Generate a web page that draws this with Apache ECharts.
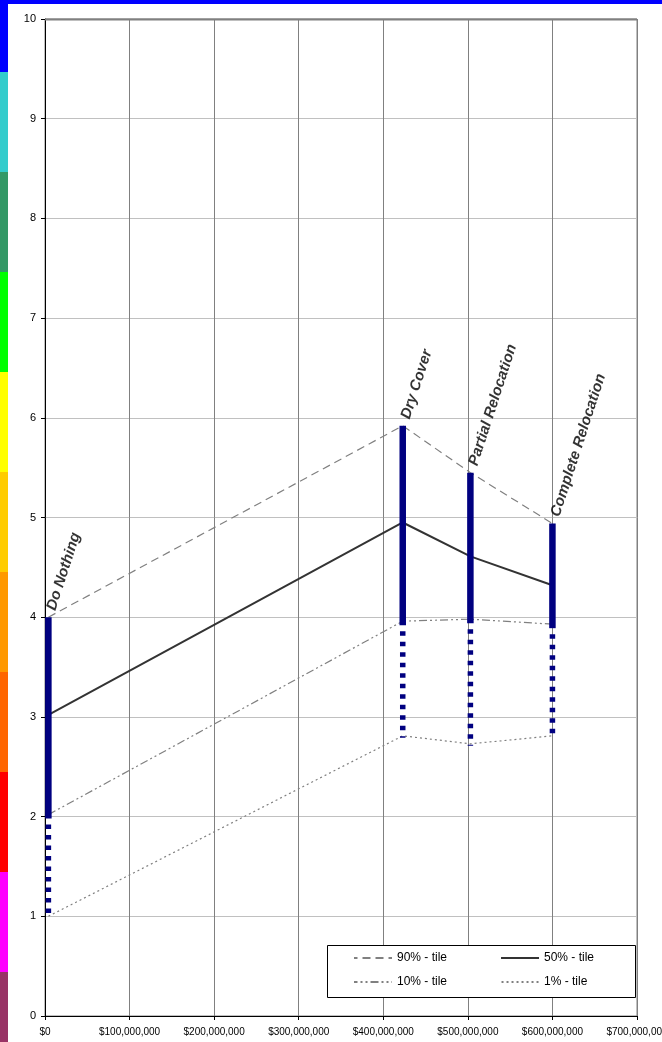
<!DOCTYPE html>
<html><head><meta charset="utf-8">
<script src="https://cdn.jsdelivr.net/npm/echarts@6/dist/echarts.min.js"></script>
<style>html,body{margin:0;padding:0;background:#fff;overflow:hidden}#c{width:662px;height:1042px}</style>
</head><body><div id="c"></div>
<script>
// ---- data ----
const alternatives = ['Do Nothing', 'Dry Cover', 'Partial Relocation', 'Complete Relocation'];
const costs = [4000000, 423000000, 503000000, 600000000];
const p90 = [4.00, 5.92, 5.45, 4.94];
const p50 = [3.02, 4.95, 4.61, 4.32];
const p10 = [2.02, 3.96, 3.98, 3.93];
const p1  = [1.00, 2.81, 2.73, 2.81];
const seriesNames = ['90% - tile', '50% - tile', '10% - tile', '1% - tile'];
const xTicks = { min: 0, max: 700000000, interval: 100000000 };
const yTicks = { min: 0, max: 10, interval: 1 };
const stripColors = ['#0000FF','#33CCCC','#339966','#00FF00','#FFFF00','#FFCC00','#FF9900','#FF6600','#FF0000','#FF00FF','#993366'];

// ---- chart ----
const FONT = '"Liberation Sans", Arial, sans-serif';
const chart = echarts.init(document.getElementById('c'), null, { renderer: 'canvas' });

const pts = arr => costs.map((c, i) => [c, arr[i]]);

const stripRects = stripColors.map((col, i) => {
  const y0 = i === 0 ? 0 : 72 + (i - 1) * 100;
  const y1 = i === 0 ? 72 : 72 + i * 100;
  return { type: 'rect', shape: { x: 0, y: y0, width: 8, height: y1 - y0 }, style: { fill: col }, z: 1 };
});

const lineStyles = [
  { color: '#808080', width: 1.2, type: [8, 5] },
  { color: '#333333', width: 2, type: 'solid' },
  { color: '#808080', width: 1.2, type: [8, 3, 2, 3, 2, 3] },
  { color: '#808080', width: 1.2, type: [2, 3] }
];
const lineData = [p90, p50, p10, p1];

const legendBase = {
  padding: 0, itemWidth: 38, itemHeight: 14, itemGap: 53, left: 353,
  itemStyle: { opacity: 0 },
  textStyle: { fontSize: 12, color: '#000', fontFamily: FONT }, z: 20, selectedMode: false
};

const option = {
  animation: false,
  backgroundColor: '#ffffff',
  textStyle: { fontFamily: FONT },
  grid: { left: 45, right: 25, top: 19, bottom: 26, containLabel: false, outerBoundsMode: 'none',
          show: true, borderColor: '#808080', borderWidth: 1, backgroundColor: 'transparent' },
  xAxis: {
    type: 'value', min: xTicks.min, max: xTicks.max, interval: xTicks.interval,
    axisLine: { show: true, onZero: false, lineStyle: { color: '#000', width: 1 } },
    axisTick: { show: true, length: 4, lineStyle: { color: '#000' } },
    axisLabel: { fontSize: 10, color: '#000', margin: 11, fontFamily: FONT,
      formatter: v => '$' + Number(v).toLocaleString('en-US') },
    splitLine: { show: true, lineStyle: { color: '#808080', width: 1 } }
  },
  yAxis: {
    type: 'value', min: yTicks.min, max: yTicks.max, interval: yTicks.interval,
    axisLine: { show: true, onZero: false, lineStyle: { color: '#000', width: 1 } },
    axisTick: { show: true, length: 4, lineStyle: { color: '#000' } },
    axisLabel: { fontSize: 11, color: '#000', margin: 9, fontFamily: FONT },
    splitLine: { show: true, lineStyle: { color: '#c0c0c0', width: 1 } }
  },
  legend: [
    Object.assign({}, legendBase, { data: [seriesNames[0], seriesNames[1]], top: 952 }),
    Object.assign({}, legendBase, { data: [seriesNames[2], seriesNames[3]], top: 976 })
  ],
  graphic: [
    { type: 'rect', shape: { x: 0, y: 0, width: 662, height: 4 }, style: { fill: '#0000FF' }, z: 1 },
    ...stripRects,
    { type: 'line', shape: { x1: 45, y1: 19.5, x2: 637, y2: 19.5 }, style: { stroke: '#808080', lineWidth: 2 }, z: 1 },
    { type: 'rect', shape: { x: 327.5, y: 945.5, width: 308, height: 52 }, style: { fill: '#fff', stroke: '#000', lineWidth: 1 }, z: 10 }
  ],
  series: [
    ...seriesNames.map((n, k) => ({
      name: n, type: 'line', data: pts(lineData[k]), symbol: 'none', showSymbol: false,
      lineStyle: lineStyles[k], itemStyle: { color: lineStyles[k].color }, z: 3
    })),
    {
      type: 'custom', z: 5,
      data: costs.map((c, i) => [c, p90[i], p10[i], p1[i]]),
      encode: { x: 0, y: [1, 2, 3] },
      renderItem: (params, api) => {
        const top = api.coord([api.value(0), api.value(1)]);
        const mid = api.coord([api.value(0), api.value(2)]);
        const bot = api.coord([api.value(0), api.value(3)]);
        const x = top[0];
        return { type: 'group', children: [
          { type: 'line', shape: { x1: x, y1: top[1], x2: x, y2: mid[1] + 4 }, style: { stroke: '#000080', lineWidth: 6.5 } },
          { type: 'line', shape: { x1: x, y1: mid[1] + 4, x2: x, y2: bot[1] + 2 }, style: { stroke: '#000080', lineWidth: 5.5, lineDash: [4.5, 6], lineDashOffset: 4.5 } }
        ] };
      }
    },
    {
      type: 'scatter', z: 6, symbolSize: 2, itemStyle: { color: 'transparent' },
      data: alternatives.map((a, i) => ({ name: a, value: [costs[i], p90[i]] })),
      label: { show: true, formatter: p => p.name, position: [11, -4], align: 'left', verticalAlign: 'bottom',
        rotate: 72, fontSize: 15, fontWeight: 'bold', fontStyle: 'italic', color: '#000', fontFamily: FONT },
      tooltip: { show: false }
    }
  ]
};
chart.setOption(option);
</script>
</body></html>
